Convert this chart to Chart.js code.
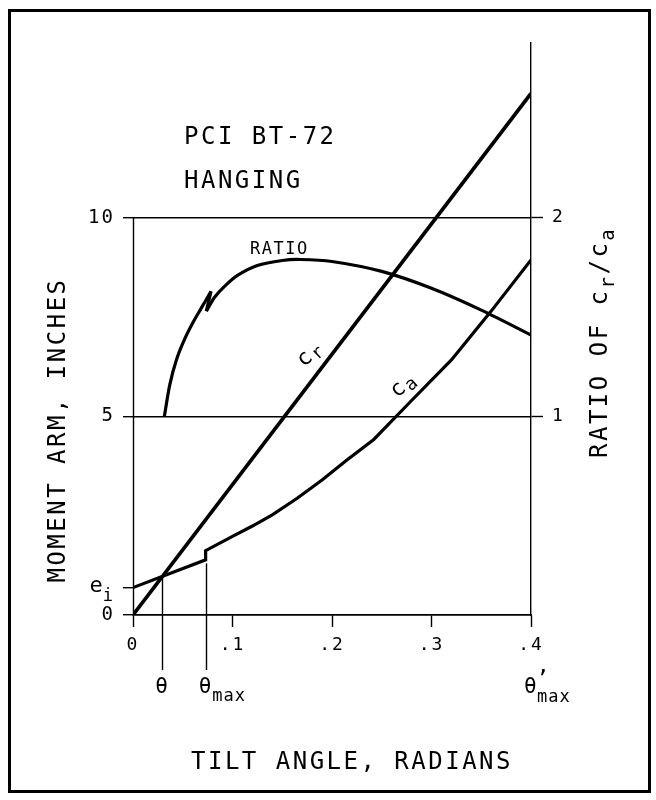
<!DOCTYPE html>
<html><head><meta charset="utf-8">
<script src="https://cdn.jsdelivr.net/npm/chart.js@4.4.1/dist/chart.umd.min.js"></script>
<style>html,body{margin:0;padding:0;background:#fff}canvas{display:block}</style>
</head><body>
<canvas id="c" width="656" height="800"></canvas>
<script>
// ---------- data ----------
const xTickValues = [0, 0.1, 0.2, 0.3, 0.4];
const xTickLabels = ['0', '.1', '.2', '.3', '.4'];
const yTickValues = [0, 0.69, 5, 10];
const yTickLabels = ['0', 'eᵢ', '5', '10'];
const ratioTickValues = [1, 2];
const ratioTickLabels = ['1', '2'];

// moment arm c_r (inches) vs tilt angle (radians)
const crX = [0, 0.4];
const crY = [0, 13.13];

// moment arm c_a (inches) vs tilt angle (radians), step at theta_max
const caX = [0, 0.073, 0.073, 0.10, 0.12, 0.14, 0.165, 0.19, 0.215, 0.242, 0.28, 0.32, 0.36, 0.40];
const caY = [0.69, 1.39, 1.62, 1.98, 2.24, 2.52, 2.94, 3.40, 3.90, 4.42, 5.40, 6.42, 7.65, 8.94];

// ratio c_r / c_a
const ratioX = [0.0315, 0.037, 0.044, 0.052, 0.060, 0.068, 0.0727, 0.0784, 0.0737, 0.082, 0.092, 0.105, 0.125, 0.150, 0.168, 0.20, 0.25, 0.30, 0.35, 0.40];
const ratioY = [1.00, 1.16, 1.29, 1.39, 1.47, 1.54, 1.58, 1.63, 1.53, 1.60, 1.655, 1.71, 1.76, 1.785, 1.79, 1.78, 1.73, 1.645, 1.535, 1.41];
const ratioSpikeTop = 7;     // index of spike top
const ratioSpikeBottom = 8;  // index of spike bottom

// angle markers
const thetaX = [0.029, 0.073];      // theta, theta_max
const thetaTopY = [0.96, 1.30];     // where the marker lines start (moment arm units)
const thetaPrimeMaxX = 0.4;

// ---------- helpers ----------
const FAMILY = "'DejaVu Sans Mono', 'Liberation Mono', monospace";
const f = s => `normal ${s}px ${FAMILY}`;
const pts = (xs, ys) => xs.map((x, i) => ({x, y: ys[i]}));
const isEi = v => v === yTickValues[1];

function drawParts(ctx, parts, x, y, align) {
  let total = 0;
  for (const p of parts) { ctx.font = f(p.size); total += ctx.measureText(p.t).width; }
  let cx = align === 'center' ? x - total / 2 : (align === 'right' ? x - total : x);
  for (const p of parts) {
    ctx.font = f(p.size);
    ctx.fillText(p.t, cx, y + (p.dy || 0));
    cx += ctx.measureText(p.t).width;
  }
}

Chart.defaults.font.family = FAMILY;
Chart.defaults.font.weight = 'normal';
Chart.defaults.color = '#000';

const annot = {
  id: 'annot',
  beforeDraw(chart) {
    const ctx = chart.ctx;
    ctx.save();
    ctx.fillStyle = '#fff';
    ctx.fillRect(0, 0, chart.width, chart.height);
    ctx.restore();
    ctx.letterSpacing = '2px';
  },
  afterDraw(chart) {
    const ctx = chart.ctx;
    const xs = chart.scales.x, ys = chart.scales.y;
    const ca = chart.chartArea;
    ctx.save();
    ctx.strokeStyle = '#000';
    ctx.fillStyle = '#000';
    // outer frame
    ctx.lineWidth = 3;
    ctx.strokeRect(9.5, 10.5, 640, 781);
    // left axis (from 10 down to 0)
    ctx.lineWidth = 1.4;
    ctx.beginPath();
    ctx.moveTo(Math.round(ca.left) + 0.5, ys.getPixelForValue(10));
    ctx.lineTo(Math.round(ca.left) + 0.5, ca.bottom);
    ctx.stroke();
    // theta marker lines
    thetaX.forEach((tx, i) => {
      const px = Math.round(xs.getPixelForValue(tx)) + 0.5;
      ctx.beginPath();
      ctx.moveTo(px, ys.getPixelForValue(thetaTopY[i]));
      ctx.lineTo(px, ca.bottom + 55);
      ctx.stroke();
    });
    ctx.textBaseline = 'alphabetic';
    ctx.textAlign = 'left';
    // e_i label (e with subscript i) beside its tick
    ctx.letterSpacing = '0px';
    const eiY = ys.getPixelForValue(yTickValues[1]);
    drawParts(ctx, [{t: 'e', size: 22}, {t: 'i', size: 17, dy: 9}], ca.left - 20, eiY + 4, 'right');
    ctx.letterSpacing = '2.5px';
    // theta labels
    const thY = ca.bottom + 78;
    drawParts(ctx, [{t: 'θ', size: 21}], xs.getPixelForValue(thetaX[0]) + 1, thY, 'center');
    const t2 = xs.getPixelForValue(thetaX[1]);
    ctx.letterSpacing = '1px';
    drawParts(ctx, [{t: 'θ', size: 21}, {t: 'max', size: 17, dy: 8}], t2 - 7, thY, 'left');
    const t3 = xs.getPixelForValue(thetaPrimeMaxX);
    drawParts(ctx, [{t: 'θ', size: 21}], t3 - 7, thY, 'left');
    drawParts(ctx, [{t: '\u2019', size: 22}], t3 + 5, thY - 8, 'left');
    drawParts(ctx, [{t: 'max', size: 17}], t3 + 6, thY + 9, 'left');
    ctx.letterSpacing = '2.5px';
    // chart title
    drawParts(ctx, [{t: 'PCI BT-72', size: 24}], 184, 144, 'left');
    drawParts(ctx, [{t: 'HANGING', size: 24}], 184, 188, 'left');
    // x axis title
    drawParts(ctx, [{t: 'TILT ANGLE, RADIANS', size: 24}], 352, 769, 'center');
    // left axis title
    ctx.save();
    ctx.translate(65, 430);
    ctx.rotate(-Math.PI / 2);
    drawParts(ctx, [{t: 'MOMENT ARM, INCHES', size: 24}], 0, 0, 'center');
    ctx.restore();
    // right axis title
    ctx.save();
    ctx.translate(607, 458);
    ctx.rotate(-Math.PI / 2);
    drawParts(ctx, [{t: 'RATIO OF c', size: 24}, {t: 'r', size: 19, dy: 7}, {t: '/c', size: 24}, {t: 'a', size: 19, dy: 7}], 0, 0, 'left');
    ctx.restore();
    // curve labels
    ctx.letterSpacing = '1.5px';
    drawParts(ctx, [{t: 'RATIO', size: 17}], xs.getPixelForValue(0.1176), ys.getPixelForValue(9.24) + 6, 'left');
    ctx.save();
    ctx.translate(xs.getPixelForValue(0.1784), ys.getPixelForValue(6.55));
    ctx.rotate(-0.75);
    drawParts(ctx, [{t: 'c', size: 22}, {t: 'r', size: 18, dy: 4}], 0, 5, 'center');
    ctx.restore();
    ctx.save();
    ctx.translate(xs.getPixelForValue(0.2723), ys.getPixelForValue(5.77));
    ctx.rotate(-0.72);
    drawParts(ctx, [{t: 'c', size: 22}, {t: 'a', size: 18, dy: 4}], 0, 5, 'center');
    ctx.restore();
    ctx.restore();
  }
};

const ratioPts = pts(ratioX, ratioY);
const lineStyle = {borderColor: '#000', pointRadius: 0, fill: false, spanGaps: true};

new Chart(document.getElementById('c'), {
  type: 'line',
  data: {
    datasets: [
      {label: 'c_r', data: pts(crX, crY), yAxisID: 'y', borderWidth: 3.6, tension: 0, ...lineStyle},
      {label: 'c_a', data: pts(caX, caY), yAxisID: 'y', borderWidth: 3.2, tension: 0, ...lineStyle},
      {label: 'RATIO', data: ratioPts.slice(0, ratioSpikeTop + 1), yAxisID: 'y1', borderWidth: 3.2, tension: 0.3, ...lineStyle},
      {label: 'RATIO', data: ratioPts.slice(ratioSpikeTop, ratioSpikeBottom + 1), yAxisID: 'y1', borderWidth: 3.2, tension: 0, ...lineStyle},
      {label: 'RATIO', data: ratioPts.slice(ratioSpikeBottom), yAxisID: 'y1', borderWidth: 3.2, tension: 0.3, ...lineStyle}
    ]
  },
  options: {
    responsive: false,
    animation: false,
    layout: {padding: {top: 43, left: 0, right: 0, bottom: 0}},
    plugins: {legend: {display: false}, tooltip: {enabled: false}, title: {display: false}},
    scales: {
      x: {
        type: 'linear', min: 0, max: 0.4,
        afterBuildTicks: s => { s.ticks = xTickValues.map(v => ({value: v})); },
        afterFit: s => { s.height = 185; },
        ticks: {callback: v => xTickLabels[xTickValues.indexOf(v)], font: {size: 18}, padding: 8, maxRotation: 0, autoSkip: false, color: '#000'},
        grid: {drawOnChartArea: false, drawTicks: true, tickLength: 12, tickColor: '#000', tickWidth: 1.4},
        border: {display: true, color: '#000', width: 1.4}
      },
      y: {
        type: 'linear', position: 'left', min: 0, max: 14.4,
        afterBuildTicks: s => { s.ticks = yTickValues.map(v => ({value: v})); },
        afterFit: s => { s.width = 133; },
        ticks: {
          // e_i is drawn with a true subscript by the annot plugin
          callback: v => isEi(v) ? '' : yTickLabels[yTickValues.indexOf(v)],
          font: {size: 19},
          padding: 8, autoSkip: false, color: '#000'
        },
        grid: {
          color: c => (c.tick && isEi(c.tick.value)) ? 'rgba(0,0,0,0)' : '#000',
          tickColor: '#000', lineWidth: 1.4, tickWidth: 1.4, tickLength: 10, drawTicks: true
        },
        border: {display: false}
      },
      y1: {
        type: 'linear', position: 'right', min: 0, max: 2.88,
        afterBuildTicks: s => { s.ticks = ratioTickValues.map(v => ({value: v})); },
        afterFit: s => { s.width = 125; },
        ticks: {callback: v => ratioTickLabels[ratioTickValues.indexOf(v)], font: {size: 18}, padding: 9, autoSkip: false, color: '#000'},
        grid: {drawOnChartArea: false, drawTicks: true, tickLength: 12, tickColor: '#000', tickWidth: 1.4},
        border: {display: true, color: '#000', width: 1.4}
      }
    }
  },
  plugins: [annot]
});
</script>
</body></html>
